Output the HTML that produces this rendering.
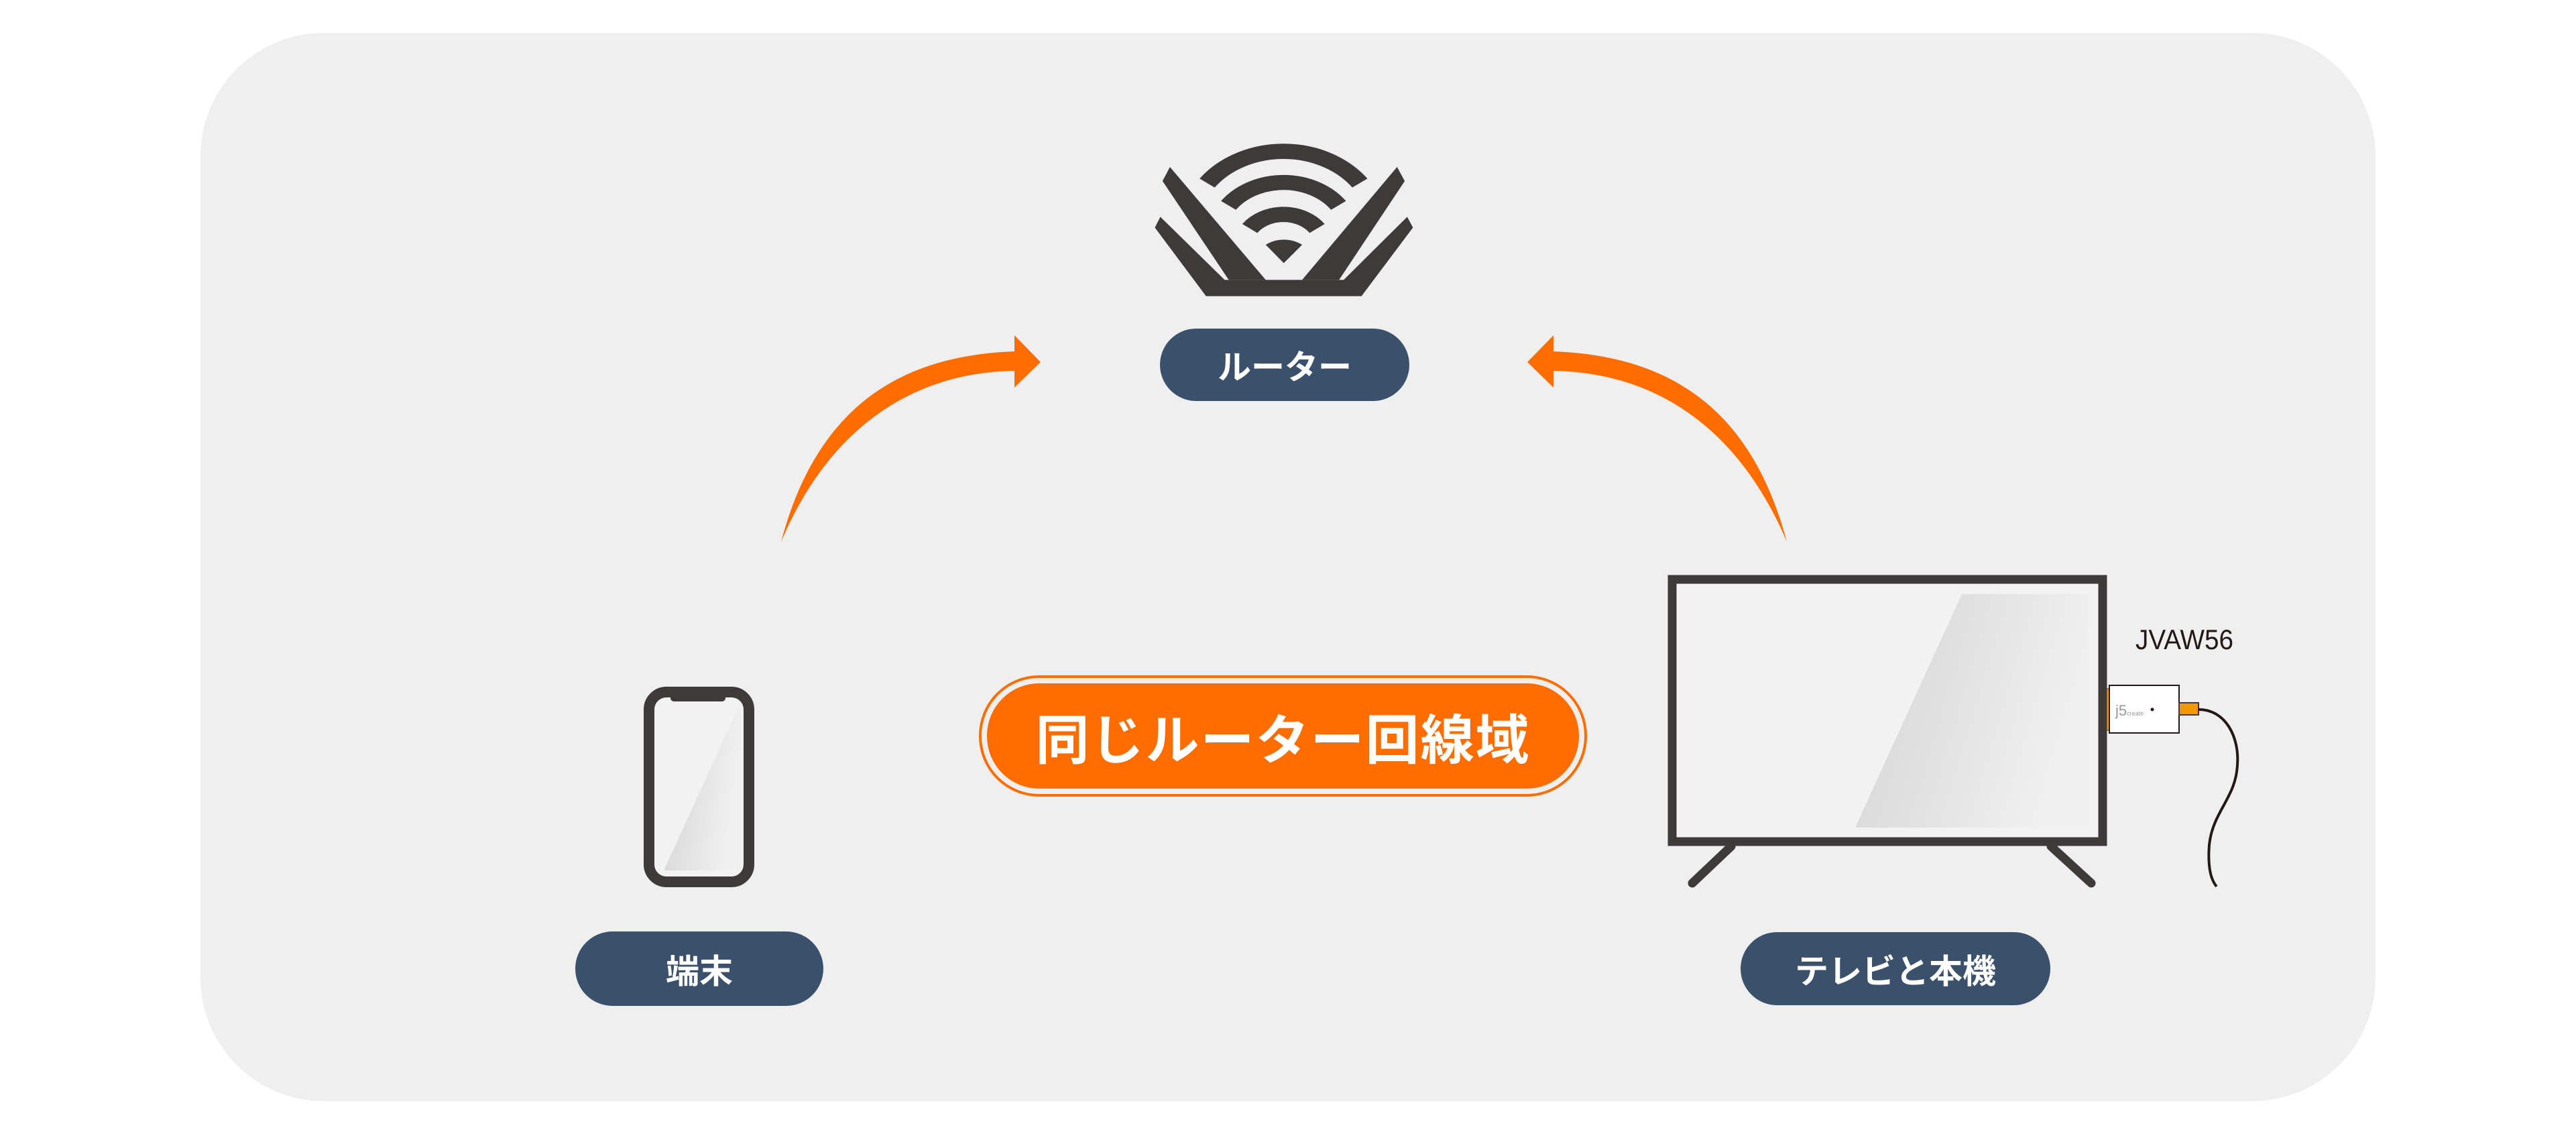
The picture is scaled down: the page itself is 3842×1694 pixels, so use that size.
<!DOCTYPE html>
<html><head><meta charset="utf-8"><style>
html,body{margin:0;padding:0;background:#fff;}
body{width:3842px;height:1694px;overflow:hidden;position:relative;font-family:"Liberation Sans","Noto Sans CJK JP",sans-serif;}
.pill{position:absolute;background:#3a506b;color:#fff;font-weight:bold;display:flex;align-items:center;justify-content:center;border-radius:60px;}
</style></head><body>
<svg width="3842" height="1694" style="position:absolute;left:0;top:0">
<defs>
<linearGradient id="g1" x1="0" y1="0" x2="1" y2="0.3"><stop offset="0" stop-color="#d3d3d3"/><stop offset="1" stop-color="#f0f0f0"/></linearGradient>
</defs>
<rect x="299" y="49" width="3244" height="1593" rx="184" fill="#efefef"/>
<!-- router -->
<g transform="translate(1600,180) scale(0.40816,0.33333)" fill="#3e3a39">
<polygon points="320,430 555,712 990,712 1222,430 1243,478 1055,785 487,785 300,478"/>
<polygon points="355,207 705,712 570,712 328,270"/>
<polygon points="1185,207 1213,270 973,712 838,712"/>
<g fill="none" stroke="#3e3a39">
<path d="M491,279 A345,345 0 0 1 1049,279" stroke-width="68"/>
<path d="M569,379 A248,248 0 0 1 971,379" stroke-width="67"/>
<path d="M647,482 A152,152 0 0 1 893,482" stroke-width="68"/>
</g>
<path d="M771,637 L705,555 A108,108 0 0 1 838,555 Z"/>
</g>
<!-- arrows -->
<g fill="#ff6d00">
<path d="M1165,808 C1220,600 1350,530 1513,524 L1513,500 L1552,540 L1513,578 L1513,553 C1370,555 1240,630 1165,808 Z"/>
<path transform="translate(3830,0) scale(-1,1)" d="M1165,808 C1220,600 1350,530 1513,524 L1513,500 L1552,540 L1513,578 L1513,553 C1370,555 1240,630 1165,808 Z"/>
</g>
<!-- phone -->
<rect x="968" y="1032" width="149" height="283" rx="26" fill="#f2f2f2" stroke="#3e3a39" stroke-width="16"/>
<rect x="1000" y="1030" width="82" height="16" rx="5" fill="#3e3a39"/>
<polygon points="1104,1049 1104,1298 990,1298" fill="url(#g1)"/>
<!-- center pill -->
<rect x="1462" y="1009" width="903" height="177" rx="88" fill="none" stroke="#ff6d00" stroke-width="4"/>
<rect x="1472" y="1019" width="883" height="157" rx="78" fill="#ff6d00"/>
<!-- TV -->
<rect x="2494" y="864" width="642" height="391" fill="#f2f2f2" stroke="#3e3a39" stroke-width="13"/>
<polygon points="2926,886 3115,886 3115,1234 2767,1234" fill="url(#g1)"/>
<g stroke="#3e3a39" stroke-width="13" stroke-linecap="round">
<line x1="2582" y1="1262" x2="2524" y2="1317"/>
<line x1="3059" y1="1262" x2="3119" y2="1317"/>
</g>
<rect x="3142" y="1027" width="4" height="62" fill="#f39800" stroke="#3e3a39" stroke-width="1"/>
<rect x="3146" y="1022" width="104" height="71" fill="#fff" stroke="#231815" stroke-width="2"/>
<text x="3155" y="1067" font-family="Liberation Sans,sans-serif" font-size="22" fill="#999">j5<tspan font-size="9">create</tspan></text>
<circle cx="3210" cy="1058" r="2.5" fill="#231815"/>
<rect x="3250" y="1048" width="29" height="18" fill="#f39800" stroke="#3e3a39" stroke-width="2"/>
<path d="M3279,1058 C3320,1058 3340,1100 3337,1140 C3335,1190 3300,1210 3295,1260 C3292,1300 3300,1315 3306,1322" fill="none" stroke="#231815" stroke-width="4"/>
<text x="3185" y="968" font-family="Liberation Sans,sans-serif" font-size="42" fill="#231815" textLength="146" lengthAdjust="spacingAndGlyphs">JVAW56</text>
</svg>
<div class="pill" style="left:1730px;top:490px;width:372px;height:108px;border-radius:54px;font-size:50px;">ルーター</div>
<div class="pill" style="left:858px;top:1389px;width:370px;height:111px;border-radius:56px;font-size:50px;">端末</div>
<div class="pill" style="left:2596px;top:1390px;width:462px;height:109px;border-radius:55px;font-size:50px;">テレビと本機</div>
<div style="position:absolute;left:1472px;top:1019px;width:883px;height:157px;display:flex;align-items:center;justify-content:center;color:#fff;font-weight:bold;font-size:80px;letter-spacing:2px;">同じルーター回線域</div>
</body></html>
